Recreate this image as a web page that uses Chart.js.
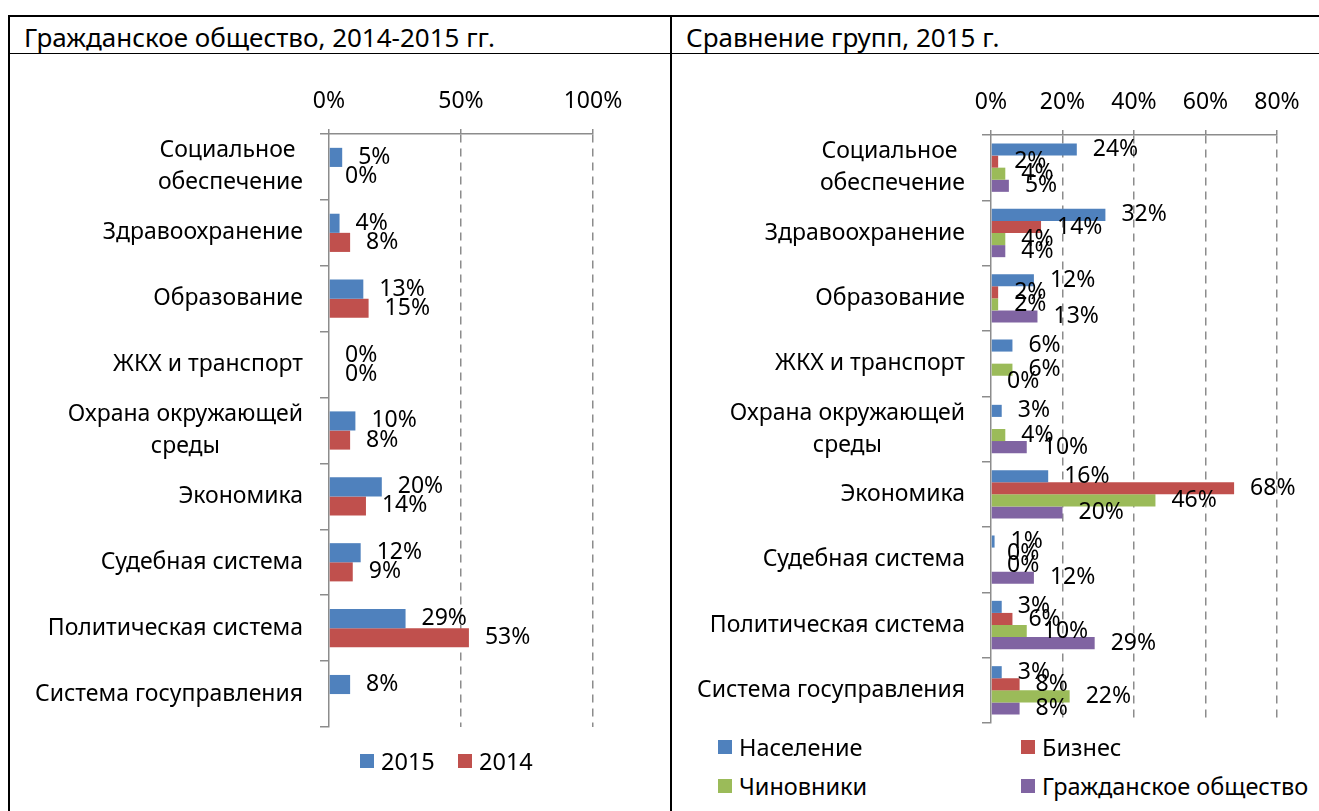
<!DOCTYPE html>
<html lang="ru">
<head>
<meta charset="utf-8">
<title>Гражданское общество и сравнение групп</title>
<script src="https://cdn.jsdelivr.net/npm/chart.js@4.4.1/dist/chart.umd.min.js"></script>
<style>
  body { margin: 0; background: #fff; font-family: "Noto Sans", sans-serif; }
  #page { position: relative; width: 1319px; height: 811px; overflow: hidden; }
  .line { position: absolute; background: #000; }
  .title { position: absolute; top: 19px; font-size: 26px; line-height: 36px; color: #000; white-space: nowrap; }
  .box { position: absolute; }
  .item { position: absolute; white-space: nowrap; display: flex; align-items: center; font-size: 23.5px; line-height: 30px; color: #000; }
  .sw { display: inline-block; width: 14px; height: 14px; margin-right: 7px; }
</style>
</head>
<body>
<div id="page">
  <!-- рамка таблицы -->
  <div class="line" style="left:8px; top:15px; width:1311px; height:2px;"></div>
  <div class="line" style="left:8px; top:53px; width:1311px; height:1px;"></div>
  <div class="line" style="left:8px; top:15px; width:2px; height:796px;"></div>
  <div class="line" style="left:670px; top:15px; width:2px; height:796px;"></div>

  <div class="title" style="left:24px;">Гражданское общество, 2014-2015 гг.</div>
  <div class="title" style="left:686px;">Сравнение групп, 2015 г.</div>

  <div class="box" style="left:10px; top:57px; width:660px; height:690px;"><canvas id="leftChart"></canvas></div>
  <div class="box" style="left:673px; top:57px; width:646px; height:686px;"><canvas id="rightChart"></canvas></div>

  <div id="leftLegend"></div>
  <div id="rightLegend"></div>
</div>

<script>
// категории (одинаковые для обеих диаграмм)
const categories = [
  ["Социальное ", "обеспечение"],
  "Здравоохранение",
  "Образование",
  "ЖКХ и транспорт",
  ["Охрана окружающей", "среды"],
  "Экономика",
  "Судебная система",
  "Политическая система",
  "Система госуправления"
];

// левая диаграмма: Гражданское общество
const civ2015 = [5, 4, 13, 0, 10, 20, 12, 29, 8];
const civ2014 = [0, 8, 15, 0, 8, 14, 9, 53, null];
const leftTicks = [0, 50, 100];

// правая диаграмма: сравнение групп 2015
const naselenie = [24, 32, 12, 6, 3, 16, 1, 3, 3];
const biznes = [2, 14, 2, null, null, 68, 0, 6, 8];
const chinovniki = [4, 4, 2, 6, 4, 46, 0, 10, 22];
const grazhdObsh = [5, 4, 13, 0, 10, 20, 12, 29, 8];
const rightTicks = [0, 20, 40, 60, 80];

const BLUE = "#4F81BD", RED = "#C0504D", GREEN = "#9BBB59", PURPLE = "#8064A2";
const AXIS = "#8c8c8c";
const FONT = '"Noto Sans", sans-serif';
const FS = 23;
const LINE_H = 32;

// подписи значений справа от столбиков
const valueLabels = {
  id: "valueLabels",
  afterDatasetsDraw(chart) {
    const ctx = chart.ctx;
    ctx.save();
    ctx.font = FS + "px " + FONT;
    ctx.fillStyle = "#000";
    ctx.textAlign = "left";
    ctx.textBaseline = "middle";
    chart.data.datasets.forEach((ds, i) => {
      chart.getDatasetMeta(i).data.forEach((bar, j) => {
        const v = ds.data[j];
        if (v === null || v === undefined) return;
        ctx.fillText(v + "%", bar.x + 16, bar.y);
      });
    });
    ctx.restore();
  }
};

// названия категорий: блок прижат вправо, строки по центру блока
const catLabels = {
  id: "catLabels",
  afterDraw(chart) {
    const sc = chart.scales.y;
    const ctx = chart.ctx;
    ctx.save();
    ctx.font = FS + "px " + FONT;
    ctx.fillStyle = "#000";
    ctx.textAlign = "center";
    ctx.textBaseline = "middle";
    const right = sc.right - 26;
    chart.data.labels.forEach((lab, i) => {
      const lines = Array.isArray(lab) ? lab : [lab];
      const w = Math.max(...lines.map(l => ctx.measureText(l).width));
      const cx = right - w / 2;
      const y0 = sc.getPixelForTick(i) - (lines.length - 1) * LINE_H / 2;
      lines.forEach((l, k) => ctx.fillText(l, cx, y0 + k * LINE_H));
    });
    ctx.restore();
  }
};

function makeOptions(ticks, catPct, yWidth, xHeight, padRight) {
  return {
    indexAxis: "y",
    responsive: true,
    maintainAspectRatio: false,
    animation: false,
    layout: { padding: { top: 0, right: padRight, bottom: 20, left: 0 } },
    datasets: { bar: { categoryPercentage: catPct, barPercentage: 1 } },
    plugins: { legend: { display: false }, tooltip: { enabled: false } },
    scales: {
      x: {
        position: "top",
        min: ticks[0],
        max: ticks[ticks.length - 1],
        afterBuildTicks: s => { s.ticks = ticks.map(v => ({ value: v })); },
        afterFit: s => { s.height = xHeight; },
        ticks: {
          callback: v => v + "%",
          color: "#000",
          padding: 14,
          font: { family: FONT, size: FS }
        },
        grid: {
          color: c => (c.tick && c.tick.value === 0) ? "rgba(0,0,0,0)" : AXIS,
          tickColor: AXIS,
          lineWidth: 1.5,
          tickLength: 5
        },
        border: { color: AXIS, width: 1.5, dash: [8, 6] }
      },
      y: {
        afterFit: s => { s.width = yWidth; },
        ticks: { display: false },
        grid: {
          drawOnChartArea: false,
          drawTicks: true,
          tickLength: 9,
          tickColor: AXIS,
          color: AXIS,
          lineWidth: 1.5,
          offset: true
        },
        border: { color: AXIS, width: 1.5 }
      }
    }
  };
}

new Chart(document.getElementById("leftChart"), {
  type: "bar",
  data: {
    labels: categories,
    datasets: [
      { label: "2015", data: civ2015, backgroundColor: BLUE },
      { label: "2014", data: civ2014, backgroundColor: RED }
    ]
  },
  options: makeOptions(leftTicks, 0.58, 319, 77, 77),
  plugins: [valueLabels, catLabels]
});

new Chart(document.getElementById("rightChart"), {
  type: "bar",
  data: {
    labels: categories,
    datasets: [
      { label: "Население", data: naselenie, backgroundColor: BLUE },
      { label: "Бизнес", data: biznes, backgroundColor: RED },
      { label: "Чиновники", data: chinovniki, backgroundColor: GREEN },
      { label: "Гражданское общество", data: grazhdObsh, backgroundColor: PURPLE }
    ]
  },
  options: makeOptions(rightTicks, 0.74, 318, 78, 42),
  plugins: [valueLabels, catLabels]
});

// легенды
function addLegend(holderId, items) {
  const holder = document.getElementById(holderId);
  items.forEach(it => {
    const d = document.createElement("div");
    d.className = "item";
    d.style.left = it.x + "px";
    d.style.top = (it.y - 15) + "px";
    d.innerHTML = '<span class="sw" style="background:' + it.color + '"></span>' + it.text;
    holder.appendChild(d);
  });
}

addLegend("leftLegend", [
  { text: "2015", color: BLUE, x: 360, y: 761 },
  { text: "2014", color: RED, x: 458, y: 761 }
]);
addLegend("rightLegend", [
  { text: "Население", color: BLUE, x: 718, y: 747 },
  { text: "Бизнес", color: RED, x: 1021, y: 747 },
  { text: "Чиновники", color: GREEN, x: 718, y: 786 },
  { text: "Гражданское общество", color: PURPLE, x: 1021, y: 786 }
]);
</script>
</body>
</html>
